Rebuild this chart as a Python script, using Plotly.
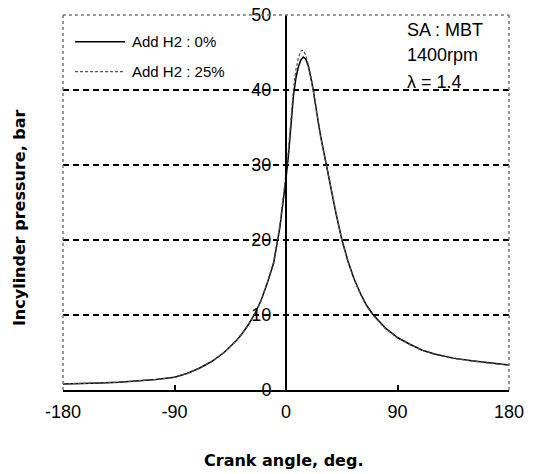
import plotly.graph_objects as go

# Crank angle (deg)
angle = [-180, -165, -150, -135, -120, -105, -90, -80, -70, -60, -50, -40, -35, -30,
         -25, -20, -15, -10, -5, -2, 0, 2, 4, 6, 8, 10, 12, 14, 16, 18, 20, 22, 25,
         28, 32, 36, 40, 45, 50, 55, 60, 65, 70, 80, 90, 100, 110, 120, 135, 150, 165, 180]

# In-cylinder pressure (bar), Add H2 : 0%
p_h2_0 = [0.8, 0.85, 0.95, 1.05, 1.2, 1.4, 1.7, 2.2, 2.9, 3.8, 5.0, 6.6, 7.6, 8.8,
          10.2, 12.0, 14.3, 16.9, 21.6, 25.3, 28.2, 31.3, 35.2, 39.2, 41.6, 43.1, 44.0, 44.4, 44.1, 43.2, 41.7, 40.0, 36.8,
          33.8, 30.5, 27.1, 23.8, 20.1, 17.2, 14.8, 12.9, 11.3, 10.1, 8.3, 7.0, 6.1, 5.3, 4.8, 4.25, 3.9, 3.6, 3.35]

# In-cylinder pressure (bar), Add H2 : 25%
p_h2_25 = [0.8, 0.85, 0.95, 1.05, 1.2, 1.4, 1.7, 2.2, 2.9, 3.8, 5.0, 6.6, 7.6, 8.8,
           10.2, 12.0, 14.4, 17.1, 22.0, 25.9, 28.9, 32.2, 36.3, 40.1, 42.7, 44.3, 45.2, 45.3, 44.6, 43.4, 41.8, 40.0, 36.8,
           33.7, 30.4, 27.0, 23.7, 20.0, 17.1, 14.7, 12.8, 11.2, 10.0, 8.2, 6.95, 6.05, 5.3, 4.75, 4.2, 3.85, 3.55, 3.3]

x_ticks = [-180, -90, 0, 90, 180]
y_ticks = [0, 10, 20, 30, 40, 50]
y_grid = [10, 20, 30, 40]

series_names = ["Add H2 : 0%", "Add H2 : 25%"]

FONT = "Liberation Sans, Arial, sans-serif"

fig = go.Figure()
fig.add_trace(go.Scatter(x=angle, y=p_h2_0, mode="lines", name=series_names[0],
                         line=dict(color="black", width=1.5), yaxis="y", showlegend=False))
fig.add_trace(go.Scatter(x=angle, y=p_h2_25, mode="lines", name=series_names[1],
                         line=dict(color="#555555", width=1.2, dash="3px,2px"), yaxis="y2",
                         showlegend=False))

# plot-area borders (dotted) at left, top, right
shapes = [
    dict(type="line", xref="paper", yref="paper", x0=0, x1=0, y0=0, y1=1,
         line=dict(color="#777777", width=1.5, dash="dot")),
    dict(type="line", xref="paper", yref="paper", x0=0, x1=1, y0=1, y1=1,
         line=dict(color="#777777", width=1.5, dash="dot")),
    dict(type="line", xref="paper", yref="paper", x0=1, x1=1, y0=0, y1=1,
         line=dict(color="#777777", width=1.5, dash="dot")),
    # legend samples
    dict(type="line", xref="paper", yref="paper", x0=0.027, x1=0.139, y0=0.9288, y1=0.9288,
         line=dict(color="black", width=1.5)),
    dict(type="line", xref="paper", yref="paper", x0=0.027, x1=0.139, y0=0.8488, y1=0.8488,
         line=dict(color="#555555", width=1.2, dash="3px,2px")),
]

annotations = [
    dict(text=series_names[0], x=0.1502, y=0.9288, xref="paper", yref="paper",
         xanchor="left", yanchor="middle", showarrow=False, font=dict(family=FONT, size=15, color="black")),
    dict(text=series_names[1], x=0.1502, y=0.8488, xref="paper", yref="paper",
         xanchor="left", yanchor="middle", showarrow=False, font=dict(family=FONT, size=15, color="black")),
    dict(text="SA : MBT", x=0.7668, y=0.96, xref="paper", yref="paper",
         xanchor="left", yanchor="middle", showarrow=False, font=dict(family=FONT, size=18, color="black")),
    dict(text="1400rpm", x=0.7668, y=0.8933, xref="paper", yref="paper",
         xanchor="left", yanchor="middle", showarrow=False, font=dict(family=FONT, size=18, color="black")),
    dict(text="λ = 1.4", x=0.7668, y=0.8213, xref="paper", yref="paper",
         xanchor="left", yanchor="middle", showarrow=False, font=dict(family=FONT, size=18, color="black")),
    dict(text="<b>Crank angle, deg.</b>", x=0.4955, y=-0.1867, xref="paper", yref="paper",
         xanchor="center", yanchor="middle", showarrow=False,
         font=dict(family="DejaVu Sans, sans-serif", size=16, color="black")),
    dict(text="<b>Incylinder pressure, bar</b>", x=-0.0987, y=0.461, xref="paper", yref="paper",
         xanchor="center", yanchor="middle", showarrow=False, textangle=-90,
         font=dict(family="DejaVu Sans, sans-serif", size=16, color="black")),
]

fig.update_layout(
    width=536, height=474,
    margin=dict(l=63, r=27, t=15, b=84),
    paper_bgcolor="white", plot_bgcolor="white",
    showlegend=False,
    xaxis=dict(range=[-180, 180], tickvals=x_ticks, ticktext=[str(v) for v in x_ticks],
               ticks="inside", ticklen=5, tickwidth=1.5, tickcolor="black", automargin=False,
               showline=True, linecolor="black", linewidth=2, showgrid=False, zeroline=False,
               tickfont=dict(family=FONT, size=18, color="black"), ticklabelstandoff=4),
    yaxis=dict(range=[0, 50], tickvals=y_grid, showticklabels=False, ticks="", automargin=False,
               showgrid=True, gridcolor="black", gridwidth=1.5, griddash="6px,4px",
               showline=False, zeroline=False),
    yaxis2=dict(range=[0, 50], overlaying="y", anchor="free", position=0.5, side="left",
                tickvals=y_ticks, ticktext=[str(v) for v in y_ticks], ticks="", automargin=False,
                showline=True, linecolor="black", linewidth=2, showgrid=False, zeroline=False,
                tickfont=dict(family=FONT, size=18, color="black"), ticklabelstandoff=10),
    shapes=shapes,
    annotations=annotations,
)

fig.write_html("out.html", config={"displayModeBar": False},
               post_script="document.body.style.margin='0';document.body.style.overflow='hidden';")
